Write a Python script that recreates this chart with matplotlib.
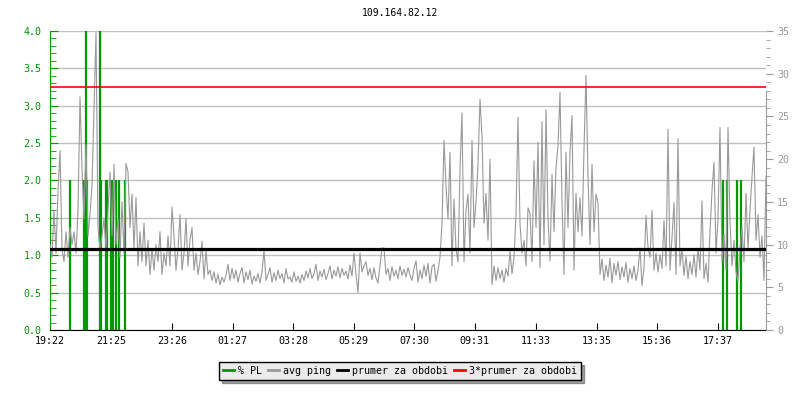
import matplotlib.pyplot as plt
import numpy as np

# hodnoty (ping v ms, vzorek kazde 4 minuty od 19:22)
ping_1922 = [10, 8.5, 14, 9, 16.3, 21, 9.5, 8, 11.5, 8.5,
             12, 10, 11.5, 9, 14, 27.3, 19, 13, 21.7, 11,
             13.5, 17, 26, 34.8, 12, 9.5, 11, 13, 9.5, 14,
             18.5, 11, 19.4, 10, 13, 8.5, 15, 9, 19.5, 18.5,
             12, 15.9, 9.5, 15.5, 7.5, 11.5, 8, 12.5, 7.5, 10.5,
             6.5, 9.5, 7, 10, 8, 11.5, 6.5, 9, 7.5, 11]
ping_2322 = [7.5, 14.4, 11, 7, 9.5, 13.5, 7, 9, 13, 7.5,
             10.5, 12, 7, 9, 6.5, 8, 10.4, 6, 9.3, 6.5,
             7, 5.8, 6.8, 5.5, 6.5, 5.3, 6.2, 5.6, 6.4, 7.7,
             5.8, 7.2, 6, 7, 5.6, 6.6, 7.3, 5.5, 6.8, 5.9,
             7, 5.4, 6.3, 5.7, 6.6, 5.5, 6.8, 9.3, 5.8, 6.5,
             7.3, 5.6, 6.7, 5.8, 7, 6, 6.6, 5.5, 7.2, 6]
ping_0322 = [6.2, 5.6, 6.8, 5.7, 6.3, 5.5, 6.5, 5.8, 6.9, 6.1,
             7.2, 6, 6.6, 7.7, 5.8, 6.9, 6.2, 7.1, 5.9, 6.6,
             7.5, 6, 7, 6.3, 7.4, 6.1, 7.2, 6.4, 6.9, 6,
             7.6, 6.3, 9, 6.5, 4.4, 9, 6.8, 7.5, 8, 6.4,
             7.2, 5.9, 7.3, 6.1, 5.5, 7.5, 9.6, 9.6, 6.5, 7.2,
             5.8, 7.4, 6.3, 7, 6, 7.5, 6.4, 7.1, 6.2, 7.3]
ping_0722 = [6.4, 5.8, 7.2, 8.1, 5.6, 7, 6, 7.6, 6.3, 7.8,
             5.5, 7.4, 7.7, 5.7, 7, 8.5,
             12.5, 22.2, 16.9, 13, 20.8, 7.5, 15.3, 9.5, 8, 18.8,
             25.4, 8, 14, 15.9, 9, 22.2, 12, 15, 19.4, 27,
             22.7, 12.5, 16, 10.5, 20, 5.3, 7.5, 5.8, 7.3, 6,
             7, 5.6, 7.2, 6.3, 9.2, 6.6, 8.5, 13.5, 24.9, 12.5,
             9, 10.5, 7.5, 14.3]
ping_1122 = [13.7, 8, 19.8, 12, 22, 7.3, 24.4, 10, 25.8, 13,
             8.1, 18.2, 11.5, 19, 21.6, 27.8, 15, 6.5, 20.8, 12,
             20.8, 25.1, 7, 16, 11.5, 15.5, 11, 21.2, 29.8, 18,
             10, 19.4, 11.5, 15.9, 14.9, 6.5, 8.3, 5.8, 7.6, 6.2,
             8.4, 5.5, 7.8, 6.4, 8, 5.9, 7.4, 6.2, 7.9, 5.6,
             7.2, 6, 7.5, 5.8, 7, 9.6, 5.2, 7.3, 13.4, 9.7]
ping_1522 = [8.5, 14, 7, 9, 6.8, 8.8, 7.2, 12.8, 7.5, 23.5,
             7, 10.8, 14.9, 6.5, 22.4, 7.5, 9.5, 6.4, 8.6, 6,
             8, 6.5, 8.8, 6.2, 9.6, 7, 15.1, 6, 7.8, 5.6,
             11.5, 16.3, 19.6, 9, 13, 23.7, 8, 11.2, 7, 23.7,
             12.8, 7.5, 10.5, 6.8, 5.7, 9.5, 12, 8, 16, 9.5,
             14, 17.9, 21.4, 10.5, 13.5, 8.5, 11, 5.8, 18]

# packet loss (%), minuty od 19:22
pl_minuty = [39, 67, 69, 71, 73, 99, 101, 111, 114, 121, 125, 131, 137, 150,
             1345, 1354, 1374, 1381]
pl_hodnoty = [2, 2, 2, 4, 2, 4, 2, 2, 2, 2, 2, 2, 2, 2,
              2, 2, 2, 2]

prumer = 9.5
casy = ['19:22', '21:25', '23:26', '01:27', '03:28', '05:29',
        '07:30', '09:31', '11:33', '13:35', '15:36', '17:37']

ping = np.array(ping_1922 + ping_2322 + ping_0322 + ping_0722 + ping_1122 + ping_1522)
minuty = np.arange(len(ping)) * 4


def na_minuty(t):
    h, m = map(int, t.split(':'))
    d = h * 60 + m - (19 * 60 + 22)
    return d + 1440 if d < 0 else d


plt.rcParams['font.family'] = 'DejaVu Sans Mono'
plt.rcParams['font.size'] = 7.2

zelena = '#009900'
seda = '#999999'

fig = plt.figure(figsize=(8, 4), dpi=100)
ax = fig.add_axes([0.0625, 0.175, 0.895, 0.7475])
ax2 = ax.twinx()

ax.set_ylim(0, 4)
ax2.set_ylim(0, 35)
ax.set_xlim(0, 1432)

ax.set_yticks(np.arange(0, 4.01, 0.5))
ax.set_yticks(np.arange(0, 4.01, 0.1), minor=True)
ax.yaxis.set_major_formatter(plt.FormatStrFormatter('%.1f'))
ax.grid(axis='y', color='#c0c0c0', lw=1)
ax.set_axisbelow(True)

ax.vlines(pl_minuty, 0, pl_hodnoty, color=zelena, lw=1.6)
ax2.plot(minuty, ping, color=seda, lw=0.8)
ax2.axhline(prumer, color='black', lw=2.3)
ax2.axhline(3 * prumer, color='red', lw=1.2)

ax.set_xticks([na_minuty(t) for t in casy])
ax.set_xticklabels(casy)
ax.tick_params(axis='x', direction='in', length=5, pad=4, colors='black')
ax.tick_params(axis='y', which='major', direction='in', length=6, color=zelena,
               labelcolor=zelena, pad=6)
ax.tick_params(axis='y', which='minor', direction='in', length=4, color=zelena)

ax2.set_yticks(np.arange(0, 36, 5))
ax2.set_yticks(np.arange(0, 36, 1), minor=True)
ax2.tick_params(axis='y', which='major', direction='out', length=5, color=seda,
                labelcolor=seda, pad=3)
ax2.tick_params(axis='y', which='minor', direction='out', length=3, color=seda)

for a in (ax, ax2):
    a.spines['top'].set_visible(False)
ax.spines['left'].set_color(zelena)
ax.spines['right'].set_visible(False)
ax.spines['bottom'].set_color('black')
ax2.spines['left'].set_visible(False)
ax2.spines['bottom'].set_visible(False)
ax2.spines['right'].set_color(seda)
ax2.spines['right'].set_bounds(0, 28)

fig.text(0.5, 0.968, '109.164.82.12', ha='center', va='center', fontsize=7)

handles = [plt.Line2D([], [], color=zelena, lw=2),
           plt.Line2D([], [], color=seda, lw=2),
           plt.Line2D([], [], color='black', lw=2),
           plt.Line2D([], [], color='red', lw=2)]
labels = ['% PL', 'avg ping', 'prumer za obdobi', '3*prumer za obdobi']
leg = fig.legend(handles, labels, loc='center', bbox_to_anchor=(0.5, 0.073), ncol=4,
                 handlelength=1.1, handletextpad=0.4, columnspacing=0.6,
                 borderpad=0.4, fancybox=False, shadow=True, framealpha=1)
leg.get_frame().set_facecolor('#ebebeb')
leg.get_frame().set_edgecolor('black')

fig.savefig('out.png', dpi=100)
